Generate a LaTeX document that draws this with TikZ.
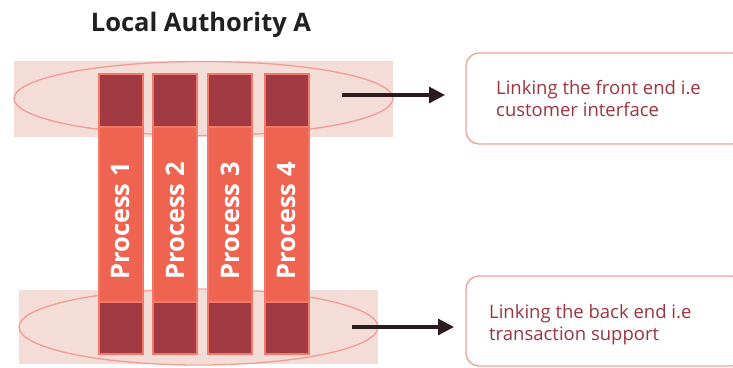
\documentclass[tikz,border=0pt]{standalone}
\usepackage{fontspec}
\setmainfont{Open Sans}
\usetikzlibrary{arrows.meta}
\definecolor{bgpink}{HTML}{F4DCD7}
\definecolor{ellstroke}{HTML}{F19C94}
\definecolor{colred}{HTML}{EF6351}
\definecolor{colborder}{HTML}{F27A6A}
\definecolor{darkred}{HTML}{A23A44}
\definecolor{arrowc}{HTML}{2C1B1E}
\definecolor{boxborder}{HTML}{F3A39A}
\definecolor{boxtext}{HTML}{9C3440}
\definecolor{titletext}{HTML}{231F20}
\tikzset{
  band/.style={fill=bgpink, draw=none},
  ring/.style={draw=ellstroke, line width=1.3pt},
  procol/.style={fill=colred, draw=colborder, line width=1.2pt},
  procend/.style={fill=darkred, draw=colborder, line width=1.2pt},
  proclabel/.style={rotate=90, text=white, font=\fontsize{25.5}{28}\selectfont\bfseries, inner sep=0pt},
  infobox/.style={draw=boxborder, line width=1.4pt, rounded corners=13pt, fill=white},
  infotext/.style={text=boxtext, font=\fontsize{18.5}{21.5}\selectfont, align=left, inner sep=0pt, anchor=base west},
  linkarrow/.style={draw=arrowc, line width=3.2pt, -{Triangle[length=16pt,width=16pt]}},
}
\begin{document}
\begin{tikzpicture}[x=1pt,y=-1pt]
\useasboundingbox (0,0) rectangle (733,367);
% title
\node[text=titletext, font=\fontsize{25.5}{28}\selectfont\bfseries, inner sep=0pt, anchor=base] (title) at (201,31) {Local Authority A};
% bands and ellipses
\fill[band] (14,61) rectangle (393,137);
\draw[ring] (203.5,98.5) ellipse [x radius=189.5, y radius=37];
\fill[band] (19,290) rectangle (378,364);
\draw[ring] (198.5,327) ellipse [x radius=179.5, y radius=38];
% columns
\foreach \i/\xa/\xb in {1/99/143, 2/153/197, 3/208/252, 4/265/309}{
  \draw[procol] (\xa,74) rectangle (\xb,354);
  \draw[procend] (\xa,74) rectangle (\xb,127);
  \draw[procend] (\xa,302) rectangle (\xb,354);
  \node[proclabel] (p\i) at ({(\xa+\xb)/2},221) {Process \i};
}
% info boxes
\draw[infobox] (466,53) rectangle (745,144);
\node[infotext] (front) at (496,116) {Linking the front end i.e\\customer interface};
\draw[infobox] (466,276) rectangle (745,366);
\node[infotext] (back) at (489,340) {Linking the back end i.e\\transaction support};
% arrows
\coordinate (a1s) at (342,95);
\coordinate (a1e) at (445,95);
\coordinate (a2s) at (352,327);
\coordinate (a2e) at (454,327);
\draw[linkarrow] (a1s) -- (a1e);
\draw[linkarrow] (a2s) -- (a2e);
\end{tikzpicture}
\end{document}
